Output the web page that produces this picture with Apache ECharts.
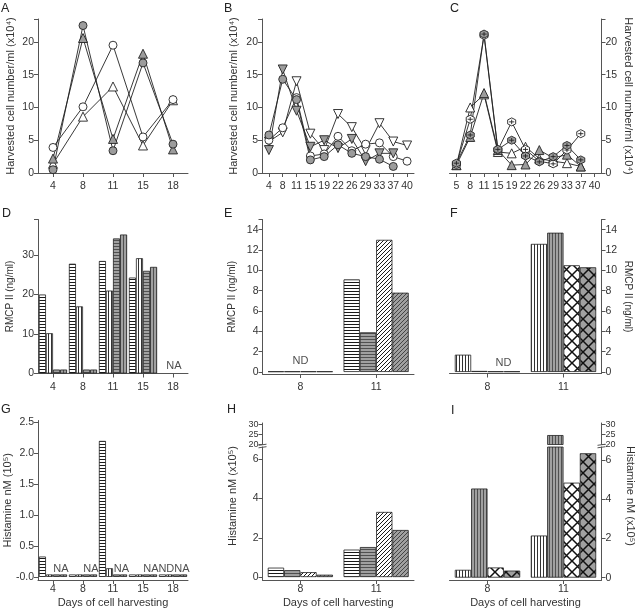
<!DOCTYPE html>
<html><head><meta charset="utf-8">
<script src="https://cdn.jsdelivr.net/npm/echarts@6/dist/echarts.min.js"></script>
<style>html,body{margin:0;padding:0;background:#fff}#c{width:639px;height:609px}</style>
</head><body><div id="c"></div>
<script>
// ================= DATA =================
// Panel A – harvested cells (x10^4/ml)
const daysA = ['4','8','11','15','18'];
const aOpenCircle   = [3.9, 10.1, 19.5, 5.5, 11.2];
const aOpenTriangle = [1.4, 8.6, 13.2, 4.2, 11.1];
const aGrayCircle   = [0.5, 22.5, 3.4, 16.8, 4.4];
const aGrayTriangle = [2.2, 20.6, 5.2, 18.2, 3.6];
// Panel B
const daysB = ['4','8','11','15','19','22','26','29','33','37','40'];
const bOpenCircle = [5.0, 6.9, 11.5, 2.6, 2.9, 5.6, 3.4, 4.4, 4.6, 2.5, 1.8];
const bOpenInvTri = [4.8, 6.2, 14.0, 6.0, 3.5, 9.0, 7.0, 3.5, 7.6, 4.8, 4.2];
const bGrayCircle = [5.8, 14.3, 11.2, 2.0, 2.5, 4.3, 3.0, 2.5, 2.1, 1.0, null];
const bGrayInvTri = [3.5, 15.8, 9.5, 4.0, 5.0, 3.8, 5.2, 1.8, 3.0, 3.0, null];
// Panel C
const daysC = ['5','8','11','15','19','22','26','29','33','37','40'];
const cOpenHex = [1.3, 8.2, 21.0, 3.5, 7.8, 3.6, 1.8, 1.4, 3.5, 6.0, null];
const cGrayHex = [1.5, 5.8, 21.2, 3.6, 5.0, 2.6, 1.7, 2.5, 4.2, 2.0, null];
const cOpenTri = [1.2, 10.0, 12.0, 3.2, 3.0, 4.0, 2.2, 1.8, 1.5, 1.0, null];
const cGrayTri = [1.2, 5.5, 12.2, 3.5, 1.2, 1.3, 3.5, 2.3, 2.8, 1.0, null];
// Panel D – RMCP II (ng/ml)
const daysD = ['4','8','11','15','18'];
const dS1 = [20.0, 27.8, 28.5, 24.3, null];
const dS2 = [10.2, 17.0, 21.0, 29.2, null];
const dS3 = [1.0, 1.0, 34.2, 26.0, null];
const dS4 = [1.0, 1.0, 35.2, 27.0, null];
const dNotes = [{day:'18', text:'NA'}];
// Panel E
const daysE = ['8','11'];
const eS1 = [0.06, 9.1];
const eS2 = [0.06, 3.9];
const eS3 = [0.06, 13.0];
const eS4 = [0.06, 7.8];
const eNotes = [{day:'8', text:'ND'}];
// Panel F
const daysF = ['8','11'];
const fS1 = [1.7, 12.6];
const fS2 = [0.1, 13.7];
const fS3 = [0.06, 10.5];
const fS4 = [0.06, 10.3];
const fNotes = [{day:'8', text:'ND'}];
// Panel G – histamine (10^5 nM)
const daysG = ['4','8','11','15','18'];
const gS1 = [0.33, 0.04, 2.2, 0.04, 0.04];
const gS2 = [0.04, 0.04, 0.14, 0.04, 0.04];
const gS3 = [0.04, 0.04, 0.04, 0.04, 0.04];
const gS4 = [0.04, 0.04, 0.04, 0.04, 0.04];
const gNotes = [{day:'4',text:'NA'},{day:'8',text:'NA'},{day:'11',text:'NA'},{day:'15',text:'NA'},{day:'18',text:'NDNA'}];
// Panel H
const daysH = ['8','11'];
const hS1 = [0.48, 1.40];
const hS2 = [0.35, 1.53];
const hS3 = [0.25, 3.32];
const hS4 = [0.12, 2.40];
// Panel I
const daysI = ['8','11'];
const iS1 = [0.40, 2.15];
const iS2 = [4.55, 24.6];
const iS3 = [0.52, 4.85];
const iS4 = [0.36, 6.35];
// tick labels
const ticksCells = [0,5,10,15,20];
const ticksD = [0,10,20,30];
const ticksEF = [0,2,4,6,8,10,12,14];
const ticksG = [0,0.5,1.0,1.5,2.0,2.5];
const ticksHILow = [0,2,4,6];
const ticksHIUp = [20,25,30];
const panelLetters = ['A','B','C','D','E','F','G','H','I'];

// ================= STYLE / LAYOUT =================
const WHITE='#ffffff', GRAY='#9c9c9c', INK='#222222', AXIS='#555555', TXT='#333333';
const NUMFONT="'Liberation Sans Narrow','Liberation Sans',Arial,sans-serif";
const FONT="'Liberation Sans',Arial,sans-serif";

const G = [
 {left:38, top:19, width:150, height:154},
 {left:262, top:19, width:152, height:154},
 {left:449.5, top:19, width:152, height:154},
 {left:38, top:219.5, width:150, height:154},
 {left:262.5, top:219.5, width:151.5, height:154.5},
 {left:449.5, top:219.5, width:152, height:154},
 {left:38, top:420.5, width:150, height:159.5},
 {left:262.5, top:447, width:151.5, height:133},
 {left:262.5, top:423, width:151.5, height:21.5},
 {left:449.5, top:447, width:152, height:133},
 {left:449.5, top:423, width:152, height:21.5}
];

function tile(w,h,bg,draw){
  const c=document.createElement('canvas'); c.width=w; c.height=h;
  const ctx=c.getContext('2d'); ctx.fillStyle=bg; ctx.fillRect(0,0,w,h); draw(ctx);
  return {image:c, repeat:'repeat'};
}
const P = {
  hW: tile(3,3,WHITE,x=>{x.fillStyle='#1a1a1a';x.fillRect(0,0,3,1);}),
  hG: tile(3,3,'#a0a0a0',x=>{x.fillStyle='#505050';x.fillRect(0,0,3,1);}),
  vW: tile(3,3,WHITE,x=>{x.fillStyle='#333';x.fillRect(0,0,1,3);}),
  vG: tile(3,3,'#a0a0a0',x=>{x.fillStyle='#505050';x.fillRect(0,0,1,3);}),
  dW: tile(4,4,WHITE,x=>{x.strokeStyle='#1a1a1a';x.lineWidth=1;x.beginPath();x.moveTo(-1,5);x.lineTo(5,-1);x.moveTo(-1,1);x.lineTo(1,-1);x.moveTo(3,5);x.lineTo(5,3);x.stroke();}),
  dG: tile(4,4,'#a0a0a0',x=>{x.strokeStyle='#444';x.lineWidth=1;x.beginPath();x.moveTo(-1,5);x.lineTo(5,-1);x.moveTo(-1,1);x.lineTo(1,-1);x.moveTo(3,5);x.lineTo(5,3);x.stroke();}),
  xW: tile(11,11,WHITE,x=>{x.strokeStyle='#111';x.lineWidth=1.5;x.beginPath();x.moveTo(0,0);x.lineTo(11,11);x.moveTo(11,0);x.lineTo(0,11);x.stroke();}),
  xG: tile(11,11,'#a0a0a0',x=>{x.strokeStyle='#111';x.lineWidth=1.5;x.beginPath();x.moveTo(0,0);x.lineTo(11,11);x.moveTo(11,0);x.lineTo(0,11);x.stroke();})
};
const HEXPLUS='path://M5,0L9.33,2.5L9.33,7.5L5,10L0.67,7.5L0.67,2.5Z M5,2.2L5,7.8 M2.2,5L7.8,5';

function xCat(grid, cats, margin, extra){
  return Object.assign({type:'category', gridIndex:grid, data:cats, boundaryGap:true,
    axisLine:{show:true,onZero:false,lineStyle:{color:AXIS,width:1}},
    axisTick:{show:true,alignWithLabel:true,length:4,lineStyle:{color:AXIS}},
    axisLabel:{interval:0,margin:margin,fontSize:10.5,fontFamily:NUMFONT,color:TXT},
    splitLine:{show:false}, nameMoveOverlap:false}, extra||{});
}
function yVal(grid, min, max, labels, tickEnds, fmt, extra, fsize){
  const ticks = labels.concat(tickEnds||[]);
  const lab = {customValues:labels, margin:4, fontSize:fsize||10.5, fontFamily:NUMFONT, color:TXT,
    showMinLabel:true, showMaxLabel:true, hideOverlap:false};
  if (fsize) lab.lineHeight = fsize;
  if (fmt) lab.formatter = fmt;
  return Object.assign({type:'value', gridIndex:grid, min:min, max:max,
    axisLine:{show:true,lineStyle:{color:AXIS,width:1}},
    axisTick:{show:true,length:4,customValues:ticks,lineStyle:{color:AXIS}},
    axisLabel:lab, splitLine:{show:false}, nameMoveOverlap:false}, extra||{});
}
function yName(name, gap, size, right, pad){
  const o = {name:name, nameLocation:'middle', nameGap:gap,
    nameTextStyle:{fontSize:size, color:TXT, fontFamily:FONT}};
  if (right){ o.position='right'; o.nameRotate=-90; }
  if (pad) o.nameTextStyle.padding = pad;
  return o;
}
function lineS(ax, data, symbol, fill, size, rot){
  return {type:'line', xAxisIndex:ax, yAxisIndex:ax, data:data, symbol:symbol, symbolSize:size,
    symbolRotate:rot||0, showSymbol:true, showAllSymbol:true, animation:false, silent:true,
    lineStyle:{color:INK,width:0.9}, itemStyle:{color:fill,borderColor:INK,borderWidth:0.9}};
}
function barS(ax, data, pat, gap){
  return {type:'bar', xAxisIndex:ax, yAxisIndex:ax, data:data, barGap:'0%', barCategoryGap:gap,
    clip:true, silent:true, itemStyle:{color:pat,borderColor:INK,borderWidth:0.8}};
}
function noteS(ax, cats, notes, offsets, dist){
  return {type:'scatter', xAxisIndex:ax, yAxisIndex:ax, symbolSize:1, silent:true, z:10,
    itemStyle:{color:'rgba(0,0,0,0)'},
    label:{show:true, position:'top', distance:dist, fontSize:11, fontFamily:FONT, color:'#222'},
    data: notes.map((n,i)=>({value:[cats.indexOf(n.day),0], label:{formatter:n.text, offset:[offsets[i],0]}}))};
}

const grids = G.map(g=>Object.assign({outerBoundsMode:'none', containLabel:false}, g));
const daysName = {name:'Days of cell harvesting', nameLocation:'middle', nameGap:17, nameTextStyle:{fontSize:11,color:TXT,fontFamily:FONT}};

const xAxes = [
  xCat(0, daysA, 8), xCat(1, daysB, 8), xCat(2, daysC, 8),
  xCat(3, daysD, 8), xCat(4, daysE, 8), xCat(5, daysF, 8),
  xCat(6, daysG, 3.5, daysName),
  xCat(7, daysH, 3.5, daysName),
  xCat(8, daysH, 3.5, {show:false}),
  xCat(9, daysI, 3.5, daysName),
  xCat(10, daysI, 3.5, {show:false})
];
const cellName = 'Harvested cell number/ml (x10\u2074)';
const rmcpName = 'RMCP II (ng/ml)';
const yAxes = [
  yVal(0, 0, 23.5, ticksCells, [23.5], null, yName(cellName, 21.5, 11)),
  yVal(1, 0, 23.5, ticksCells, [23.5], null, yName(cellName, 23, 11)),
  yVal(2, 0, 23.5, ticksCells, [23.5], null, yName(cellName, 21, 11, true)),
  yVal(3, 0, 39, ticksD, [39], null, yName(rmcpName, 23, 10)),
  yVal(4, -0.2, 15, ticksEF, [15], null, yName(rmcpName, 25, 10)),
  yVal(5, -0.15, 15, ticksEF, [15], null, yName(rmcpName, 21.5, 10, true)),
  yVal(6, -0.05, 2.53, ticksG, [], v=> v===0 ? '-0.0' : v.toFixed(1), yName('Histamine nM (10\u2075)', 24.5, 11)),
  yVal(7, -0.15, 6.63, ticksHILow, [], null, yName('Histamine nM (x10\u2075)', 23.7, 11, false, [0,0,0,35])),
  yVal(8, 20, 30.5, ticksHIUp, [], null, {}, 9),
  yVal(9, -0.12, 6.67, ticksHILow, [], null, yName('Histamine nM (x10\u2075)', 22.8, 11, true, [0,35,0,0])),
  yVal(10, 20, 30.5, ticksHIUp, [], null, {position:'right'}, 9)
];

const series = [
  lineS(0, aOpenTriangle, 'triangle', WHITE, 9),
  lineS(0, aOpenCircle, 'circle', WHITE, 8),
  lineS(0, aGrayTriangle, 'triangle', GRAY, 9),
  lineS(0, aGrayCircle, 'circle', GRAY, 8),

  lineS(1, bOpenInvTri, 'triangle', WHITE, 9, 180),
  lineS(1, bOpenCircle, 'circle', WHITE, 8),
  lineS(1, bGrayInvTri, 'triangle', GRAY, 9, 180),
  lineS(1, bGrayCircle, 'circle', GRAY, 8),

  lineS(2, cOpenTri, 'triangle', WHITE, 9),
  lineS(2, cGrayTri, 'triangle', GRAY, 9),
  lineS(2, cOpenHex, HEXPLUS, WHITE, 8),
  lineS(2, cGrayHex, HEXPLUS, GRAY, 8),

  barS(3, dS1, P.hW, '6%'), barS(3, dS2, P.vW, '6%'), barS(3, dS3, P.hG, '6%'), barS(3, dS4, P.vG, '6%'),
  noteS(3, daysD, dNotes, [1], 1.5),

  barS(4, eS1, P.hW, '14%'), barS(4, eS2, P.hG, '14%'), barS(4, eS3, P.dW, '14%'), barS(4, eS4, P.dG, '14%'),
  noteS(4, daysE, eNotes, [0], 5),

  barS(5, fS1, P.vW, '14%'), barS(5, fS2, P.vG, '14%'), barS(5, fS3, P.xW, '14%'), barS(5, fS4, P.xG, '14%'),
  noteS(5, daysF, fNotes, [16], 3.5),

  barS(6, gS1, P.hW, '6%'), barS(6, gS2, P.vW, '6%'), barS(6, gS3, P.hG, '6%'), barS(6, gS4, P.vG, '6%'),
  noteS(6, daysG, gNotes, [8,8,8.5,8,1], 2),

  barS(7, hS1, P.hW, '14%'), barS(7, hS2, P.hG, '14%'), barS(7, hS3, P.dW, '14%'), barS(7, hS4, P.dG, '14%'),
  barS(8, hS1, P.hW, '14%'), barS(8, hS2, P.hG, '14%'), barS(8, hS3, P.dW, '14%'), barS(8, hS4, P.dG, '14%'),

  barS(9, iS1, P.vW, '14%'), barS(9, iS2, P.vG, '14%'), barS(9, iS3, P.xW, '14%'), barS(9, iS4, P.xG, '14%'),
  barS(10, iS1, P.vW, '14%'), barS(10, iS2, P.vG, '14%'), barS(10, iS3, P.xW, '14%'), barS(10, iS4, P.xG, '14%')
];

const letterPos = [[1,2],[224,2],[450,2],[2,207],[224,207],[450,207],[1,403],[227,403],[451,404]];
const titles = panelLetters.map((t,i)=>({text:t, left:letterPos[i][0], top:letterPos[i][1], padding:0,
  textStyle:{fontSize:12.5, fontWeight:'normal', color:'#222', fontFamily:FONT}}));

function breakMarks(low, up, right){
  const x = right ? low.left + low.width : low.left;
  const yA = up.top + up.height, yB = low.top;
  return [
    {type:'line', silent:true, shape:{x1:x-4, y1:yA+0.8, x2:x+4, y2:yA-0.3}, style:{stroke:AXIS, lineWidth:1}},
    {type:'line', silent:true, shape:{x1:x-4, y1:yB+0.8, x2:x+4, y2:yB-0.3}, style:{stroke:AXIS, lineWidth:1}}
  ];
}

const chart = echarts.init(document.getElementById('c'), null, {renderer:'canvas'});
chart.setOption({
  animation:false,
  backgroundColor:'#ffffff',
  textStyle:{fontFamily:FONT},
  title:titles,
  grid:grids, xAxis:xAxes, yAxis:yAxes, series:series,
  graphic: breakMarks(G[7], G[8], false).concat(breakMarks(G[9], G[10], true))
});
</script></body></html>
